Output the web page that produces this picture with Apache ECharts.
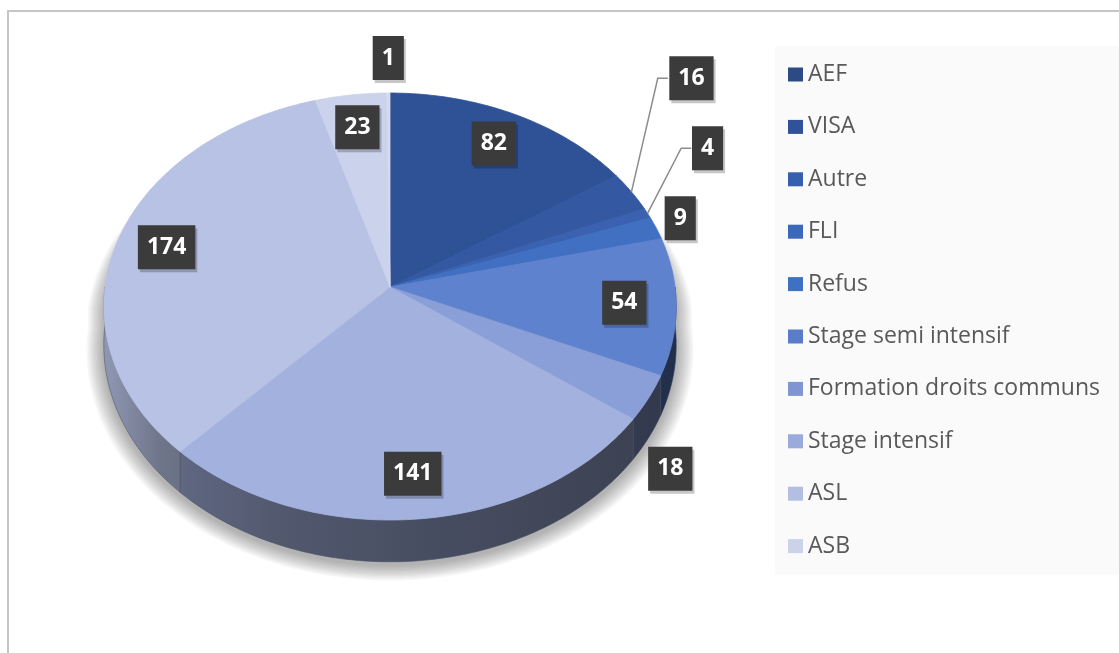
<!DOCTYPE html>
<html>
<head>
<meta charset="utf-8">
<script src="https://cdn.jsdelivr.net/npm/echarts@6/dist/echarts.min.js"></script>
<style>
html, body { margin: 0; padding: 0; background: #fff; overflow: hidden; }
#frame { position: absolute; left: 7px; top: 10px; width: 1140px; height: 670px; border: 2px solid #C6C6C6; box-sizing: border-box; }
#main { position: absolute; left: 0; top: 0; width: 1119px; height: 653px; }
</style>
</head>
<body>
<div id="frame"></div>
<div id="main"></div>
<script>
// données
var categories = ['AEF', 'VISA', 'Autre', 'FLI', 'Refus', 'Stage semi intensif',
                  'Formation droits communs', 'Stage intensif', 'ASL', 'ASB'];
var values = [82, 16, 4, 9, 54, 18, 141, 174, 23, 1];

// couleurs (légende) et couleurs éclairées du dessus du camembert
var legendColors = ['#2C4A84', '#30529A', '#3660AE', '#3C68BC', '#4070C2', '#5B7DC9',
                    '#7F96D2', '#99AADB', '#B3BEE2', '#CBD2EA'];
var faceColors = ['#2F5195', '#3459A2', '#3A62B0', '#4170C2', '#5F82CE', '#8A9ED7',
                  '#A3B1DE', '#B7C2E5', '#CAD2EC', '#D5DBEF'];

// géométrie du camembert "3D" (perspective simple)
var CX = 390, CY = 287, R = 285, H = 211.7, P = 0.0914, D = 38;

function proj(theta, f, dz) {
    var a = theta * Math.PI / 180;
    var u = Math.sin(a) * f, v = Math.cos(a) * f;
    var k = 1 / (1 + P * v);
    return [CX + R * u * k, CY + (-H * v + D * dz) * k];
}

function arc(t0, t1, f, dz) {
    var n = Math.max(2, Math.ceil(Math.abs(t1 - t0)));
    var pts = [];
    for (var j = 0; j <= n; j++) {
        pts.push(proj(t0 + (t1 - t0) * j / n, f, dz));
    }
    return pts;
}

function shade(hex, fac) {
    var r = parseInt(hex.substr(1, 2), 16), g = parseInt(hex.substr(3, 2), 16), b = parseInt(hex.substr(5, 2), 16);
    return 'rgb(' + Math.round(r * fac) + ',' + Math.round(g * fac) + ',' + Math.round(b * fac) + ')';
}

var total = 0;
for (var i = 0; i < values.length; i++) total += values[i];
var starts = [], sweeps = [];
var acc = 0;
for (var i = 0; i < values.length; i++) {
    starts.push(acc / total * 360);
    sweeps.push(values[i] / total * 360);
    acc += values[i];
}

// position des étiquettes
var labels = [];
for (var i = 0; i < values.length; i++) {
    var mid = starts[i] + sweeps[i] / 2;
    var a = mid * Math.PI / 180;
    if (values[i] / total >= 0.04) {
        var p = proj(mid, 0.82, 0);
        labels.push({x: p[0], y: p[1], inside: true, mid: mid});
    } else {
        var front = Math.cos(a) < 0 ? 1 : 0;
        var e = proj(mid, 1, front);
        var dy = Math.cos(a) < 0 ? 62 : 35;
        labels.push({x: e[0] + Math.sin(a) * 25, y: e[1] - Math.cos(a) * dy, inside: false,
                     mid: mid, edge: proj(mid, 1, 0)});
    }
}
// on décale vers le haut les étiquettes extérieures de droite qui se chevauchent
var right = [];
for (var i = 0; i < labels.length; i++) {
    if (!labels[i].inside && Math.sin(labels[i].mid * Math.PI / 180) > 0.3) right.push(i);
}
right.sort(function (p, q) { return labels[q].y - labels[p].y; });
for (var j = 1; j < right.length; j++) {
    var cur = labels[right[j]], prev = labels[right[j - 1]];
    if (cur.y > prev.y - 68) {
        cur.y = prev.y - 70;
        cur.x = cur.edge[0] + 60;
        cur.leader = true;
    }
}

function renderSlice(params, api) {
    var i = params.seriesIndex;
    var t0 = starts[i], t1 = t0 + sweeps[i];
    var children = [];
    if (i === 0) {
        // ombre douce sous le camembert (couches superposées)
        for (var s = 12; s >= 1; s--) {
            var outline = [];
            for (var t = 270; t <= 450; t += 2) {
                var sn = Math.sin(t * Math.PI / 180);
                outline.push(proj(t, 1 + s * 0.005 * sn * sn, 0.5));
            }
            outline = outline.concat(arc(90, 270, 1 + s * 0.005, 1)).map(function (q) {
                return [q[0], q[1] + 3];
            });
            children.push({type: 'polygon', z2: 0, shape: {points: outline},
                style: {fill: 'rgba(0,0,0,0.03)'}});
        }
    }
    // paroi avant
    var a = Math.max(t0, 90), b = Math.min(t1, 270);
    if (b > a) {
        var stops = [[0, 0.78], [0.1, 0.6], [0.3, 0.5], [0.55, 0.44], [1, 0.36]].map(function (s) {
            return {offset: s[0], color: shade(faceColors[i], s[1])};
        });
        var wall = arc(a, b, 1, 0).concat(arc(b, a, 1, 1));
        children.push({type: 'polygon', z2: 1, shape: {points: wall},
            style: {fill: {type: 'linear', x: CX - R, y: 0, x2: CX + R, y2: 0, global: true, colorStops: stops},
                    stroke: shade(faceColors[i], 0.45), lineWidth: 0.6}});
    }
    // dessus
    var top = [[CX, CY]].concat(arc(t0, t1, 1, 0));
    children.push({type: 'polygon', z2: 2, shape: {points: top},
        style: {fill: faceColors[i], stroke: faceColors[i], lineWidth: 0.8}});

    var lb = labels[i];
    if (lb.leader) {
        var left = lb.x - (String(values[i]).length * 14.7 + 18) / 2;
        children.push({type: 'polyline', z2: 5,
            shape: {points: [proj(lb.mid, 1, 0), [left - 10, lb.y], [left, lb.y]]},
            style: {stroke: '#8C8C8C', lineWidth: 1.5, fill: null}});
    }
    var txt = {text: String(values[i]), align: 'center', verticalAlign: 'middle',
               fontSize: 23, fontWeight: 'bold', fontFamily: 'Open Sans',
               lineHeight: 28, padding: [8, 9]};
    // ombre de l'étiquette
    children.push({type: 'text', z2: 9, x: lb.x + 2, y: lb.y + 3,
        style: Object.assign({}, txt, {fill: 'rgba(0,0,0,0)', backgroundColor: 'rgba(0,0,0,0.22)'})});
    children.push({type: 'text', z2: 10, x: lb.x, y: lb.y,
        style: Object.assign({}, txt, {fill: '#fff', backgroundColor: '#3B3B3B'})});
    return {type: 'group', children: children};
}

var myChart = echarts.init(document.getElementById('main'));
var series = [];
for (var i = 0; i < categories.length; i++) {
    series.push({
        type: 'custom',
        name: categories[i],
        coordinateSystem: 'none',
        silent: true,
        itemStyle: {color: legendColors[i]},
        renderItem: renderSlice,
        data: [values[i]]
    });
}

var option = {
    animation: false,
    legend: {
        orient: 'vertical',
        left: 775,
        top: 46,
        padding: [17, 40, 17, 13],
        backgroundColor: '#FAFAFA',
        icon: 'rect',
        itemWidth: 15,
        itemHeight: 14,
        itemGap: 29.4,
        selectedMode: false,
        textStyle: {fontSize: 23, lineHeight: 21, color: '#595959', fontFamily: 'Open Sans'},
        data: categories
    },
    series: series
};
myChart.setOption(option);
</script>
</body>
</html>
